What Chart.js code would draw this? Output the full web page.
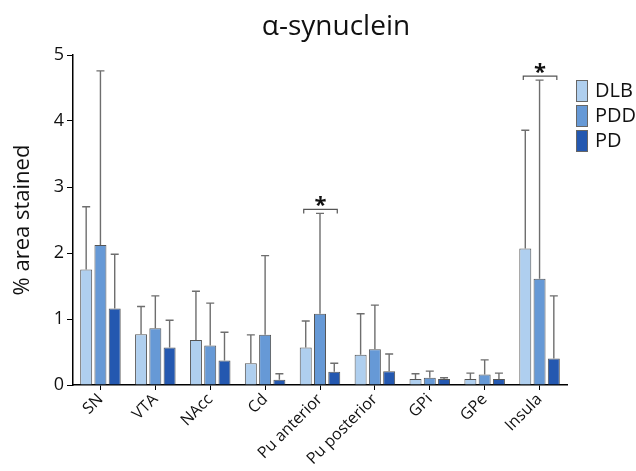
<!DOCTYPE html>
<html>
<head>
<meta charset="utf-8">
<script src="https://cdn.jsdelivr.net/npm/chart.js@4.4.0/dist/chart.umd.min.js"></script>
<style>
  html, body { margin: 0; padding: 0; background: #fff; }
  #wrap { width: 636px; height: 471px; }
</style>
</head>
<body>
<div id="wrap"><canvas id="c" width="636" height="471"></canvas></div>
<script>
const categories = ['SN', 'VTA', 'NAcc', 'Cd', 'Pu anterior', 'Pu posterior', 'GPi', 'GPe', 'Insula'];
const seriesNames = ['DLB', 'PDD', 'PD'];
const dlbMean = [1.75, 0.77, 0.68, 0.33, 0.57, 0.46, 0.09, 0.09, 2.07];
const dlbUpper = [2.70, 1.19, 1.42, 0.76, 0.97, 1.08, 0.17, 0.18, 3.86];
const pddMean = [2.12, 0.86, 0.60, 0.76, 1.08, 0.54, 0.11, 0.16, 1.61];
const pddUpper = [4.76, 1.35, 1.24, 1.96, 2.60, 1.21, 0.21, 0.38, 4.62];
const pdMean = [1.16, 0.57, 0.37, 0.08, 0.20, 0.21, 0.09, 0.09, 0.40];
const pdUpper = [1.98, 0.98, 0.80, 0.17, 0.33, 0.47, 0.11, 0.18, 1.35];
const significant = ['Pu anterior', 'Insula'];
const yTicks = [0, 1, 2, 3, 4, 5];

const colors = ['#afcfef', '#6699d6', '#2458b0'];
const FONT = "'Open Sans', 'Noto Sans', sans-serif";

const upperSets = [dlbUpper, pddUpper, pdUpper];

const extrasPlugin = {
  id: 'extras',
  afterDatasetsDraw(chart) {
    const ctx = chart.ctx;
    const y = chart.scales.y;
    ctx.save();
    // error bars (upper only)
    chart.data.datasets.forEach((ds, di) => {
      const meta = chart.getDatasetMeta(di);
      meta.data.forEach((el, i) => {
        const top = y.getPixelForValue(upperSets[di][i]);
        ctx.strokeStyle = '#6e6e6e';
        ctx.lineWidth = 1.4;
        ctx.beginPath();
        ctx.moveTo(el.x, el.y);
        ctx.lineTo(el.x, top);
        ctx.moveTo(el.x - 4, top);
        ctx.lineTo(el.x + 4, top);
        ctx.stroke();
      });
    });
    // significance brackets
    significant.forEach(name => {
      const i = categories.indexOf(name);
      const m0 = chart.getDatasetMeta(0).data[i];
      const m2 = chart.getDatasetMeta(2).data[i];
      const maxUp = Math.max(dlbUpper[i], pddUpper[i], pdUpper[i]);
      const by = y.getPixelForValue(maxUp) - 4;
      const x0 = m0.x - 2, x1 = m2.x + 3;
      ctx.strokeStyle = '#555';
      ctx.lineWidth = 1.2;
      ctx.beginPath();
      ctx.moveTo(x0, by + 4);
      ctx.lineTo(x0, by);
      ctx.lineTo(x1, by);
      ctx.lineTo(x1, by + 4);
      ctx.stroke();
      ctx.fillStyle = '#111';
      ctx.font = "bold 22px " + FONT;
      ctx.textAlign = 'center';
      ctx.textBaseline = 'alphabetic';
      ctx.fillText('*', (x0 + x1) / 2, by + 3);
    });
    ctx.restore();
  },
  afterDraw(chart) {
    const ctx = chart.ctx;
    ctx.save();
    // title
    ctx.fillStyle = '#111';
    ctx.font = "28px " + FONT;
    ctx.textAlign = 'center';
    ctx.textBaseline = 'middle';
    ctx.fillText('α-synuclein', 336, 27);
    // legend
    const lx = 576, ly = 80;
    seriesNames.forEach((n, k) => {
      const top = ly + k * 25;
      ctx.fillStyle = colors[k];
      ctx.fillRect(lx, top, 11, 21);
      ctx.strokeStyle = '#666';
      ctx.lineWidth = 1;
      ctx.strokeRect(lx + 0.5, top + 0.5, 11, 21);
      ctx.fillStyle = '#111';
      ctx.font = "20px " + FONT;
      ctx.textAlign = 'left';
      ctx.textBaseline = 'middle';
      ctx.fillText(n, 595, top + 11);
    });
    ctx.restore();
  }
};

new Chart(document.getElementById('c'), {
  type: 'bar',
  data: {
    labels: categories,
    datasets: [
      { label: seriesNames[0], data: dlbMean, backgroundColor: colors[0] },
      { label: seriesNames[1], data: pddMean, backgroundColor: colors[1] },
      { label: seriesNames[2], data: pdMean, backgroundColor: colors[2] }
    ].map(d => Object.assign(d, { borderColor: '#555', borderWidth: 1, categoryPercentage: 0.78, barPercentage: 0.84 }))
  },
  options: {
    responsive: false,
    animation: false,
    layout: { padding: { top: 55, right: 69, bottom: 0, left: 0 } },
    plugins: {
      legend: { display: false },
      title: { display: false },
      tooltip: { enabled: false }
    },
    scales: {
      x: {
        grid: { display: true, drawOnChartArea: false, drawTicks: true, tickLength: 5, color: '#000', offset: false },
        border: { color: '#000', width: 1.5 },
        ticks: { color: '#111', font: { family: FONT, size: 16 }, maxRotation: 45, minRotation: 45, padding: 0 },
        afterFit(s) { s.height = 86; }
      },
      y: {
        min: 0, max: 5,
        afterBuildTicks(s) { s.ticks = yTicks.map(v => ({ value: v })); },
        grid: { display: true, drawOnChartArea: false, drawTicks: true, tickLength: 6, color: '#000' },
        border: { color: '#000', width: 1.5 },
        ticks: { color: '#111', font: { family: FONT, size: 18 }, padding: 3 },
        title: { display: true, text: '% area stained', color: '#111', font: { family: FONT, size: 22 }, padding: { top: 10, bottom: 0 } },
        afterFit(s) { s.width = 73; }
      }
    }
  },
  plugins: [extrasPlugin]
});
</script>
</body>
</html>
